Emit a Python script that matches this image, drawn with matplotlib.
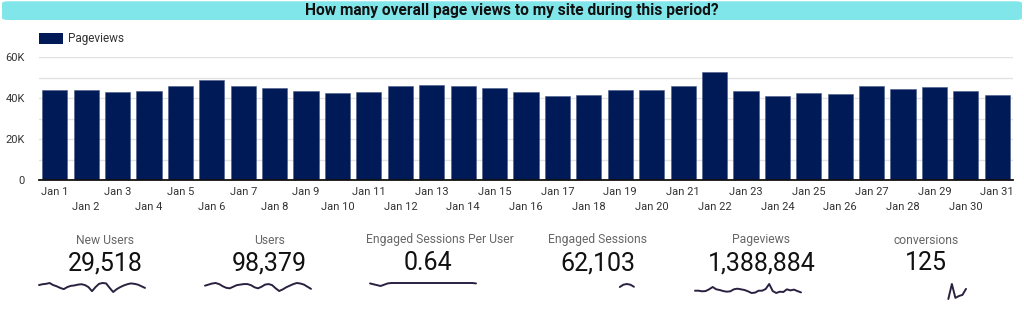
import numpy as np
import matplotlib
matplotlib.use('Agg')
import matplotlib.pyplot as plt
from matplotlib.patches import FancyBboxPatch, Rectangle

plt.rcParams['font.family'] = ['Roboto', 'DejaVu Sans']

# ---- data ----
days = ['Jan %d' % d for d in range(1, 32)]
pageviews = [44000, 44000, 43200, 43500, 45800, 48800, 45800, 44900, 43500, 42700,
             43200, 45800, 46600, 45800, 44900, 43200, 41000, 41500, 44000, 44000,
             46200, 52700, 43500, 41000, 42700, 42300, 45800, 44400, 45400, 43500,
             41800]

kpi_names = ['New Users', 'Users', 'Engaged Sessions Per User',
             'Engaged Sessions', 'Pageviews', 'conversions']
kpi_values = ['29,518', '98,379', '0.64', '62,103', '1,388,884', '125']

nan = np.nan
new_users_daily = [1000, 1020, 1030, 1050, 1000, 970, 930, 900, 950, 980, 990,
                   1010, 1020, 1000, 950, 850, 950, 1030, 1050, 1040, 930, 830,
                   900, 950, 990, 1020, 1040, 1030, 1010, 970, 930]
users_daily = [3250, 3300, 3350, 3375, 3325, 3225, 3150, 3125, 3200, 3275, 3300,
               3325, 3325, 3275, 3175, 3125, 3200, 3300, 3325, 3275, 3125, 3000,
               3075, 3175, 3250, 3325, 3375, 3350, 3300, 3200, 3100]
espu_daily = [0.640, 0.638, 0.636, 0.634, 0.637, 0.640, 0.641, 0.641, 0.641, 0.641,
              0.641, 0.641, 0.641, 0.641, 0.641, 0.641, 0.641, 0.641, 0.641, 0.641,
              0.641, 0.641, 0.641, 0.641, 0.641, 0.641, 0.641, 0.641, 0.641, 0.641,
              0.640]
engaged_daily = [nan] * 24 + [2050, 2150, 2180, 2150, 2060] + [nan, nan]
conversions_daily = [nan] * 25 + [6, 46, 9, 14, 17, 33]

spark_series = [new_users_daily, users_daily, espu_daily, engaged_daily,
                pageviews, conversions_daily]

# ---- layout (pixels in a 1024x324 canvas) ----
W, H = 1024, 324
label_x = [105, 270, 440, 598, 761, 926]
value_x = [105, 269, 428, 598, 762, 926]
spark_left = [39, 205, 370, 535, 695, 860]
spark_box = [(283, 292), (283, 291), (283, 286), (284, 287), (284, 293), (284, 299)]
spark_w = 106

fig = plt.figure(figsize=(W / 100, H / 100), dpi=100)
fig.patch.set_facecolor('white')

# title bar
bar_bg = FancyBboxPatch((0.002, 1 - 20 / H), 0.996, 20 / H - 0.004,
                        boxstyle='round,pad=0,rounding_size=0.006',
                        transform=fig.transFigure, facecolor='#80e6ea',
                        edgecolor='none', zorder=0)
fig.patches.append(bar_bg)
fig.text(0.5, 1 - 10 / H, 'How many overall page views to my site during this period?',
         ha='center', va='center', fontsize=11.2, fontweight='bold', color='#111111')

# main bar chart
ax = fig.add_axes([39 / W, 1 - 180.3 / H, (1013 - 39) / W, (180.3 - 57.3) / H])
x = np.arange(len(days))
ax.bar(x, pageviews, width=0.8, color='#001a57', edgecolor='#4a5a88', linewidth=0.4,
       zorder=3)
ax.set_xlim(-0.5, len(days) - 0.5)
ax.set_ylim(0, 60000)
ax.set_yticks([0, 20000, 40000, 60000])
ax.set_yticklabels(['0', '20K', '40K', '60K'])
ax.set_yticks(np.arange(10000, 60000, 20000), minor=True)
ax.grid(axis='y', which='both', color='#e2e2e2', linewidth=1, zorder=0)
ax.tick_params(axis='y', which='both', length=0, pad=10, labelsize=8, labelcolor='#333333')
for s in ['top', 'right', 'left']:
    ax.spines[s].set_visible(False)
ax.spines['bottom'].set_color('#111111')
ax.spines['bottom'].set_linewidth(1.3)
ax.spines['bottom'].set_zorder(4)

ax.set_xticks(x[::2])
ax.set_xticklabels(days[::2])
ax.set_xticks(x[1::2], minor=True)
ax.set_xticklabels(days[1::2], minor=True)
ax.tick_params(axis='x', which='major', length=0, pad=5, labelsize=8, labelcolor='#333333')
ax.tick_params(axis='x', which='minor', length=0, pad=15.5, labelsize=8, labelcolor='#333333')

# legend
fig.patches.append(Rectangle((39 / W, 1 - 44 / H), 24 / W, 11 / H,
                             transform=fig.transFigure, facecolor='#001a57',
                             edgecolor='none'))
fig.text(68 / W, 1 - 38.5 / H, 'Pageviews', ha='left', va='center', fontsize=8.5,
         color='#333333')

# scorecards
for i in range(6):
    fig.text(label_x[i] / W, 1 - 240 / H, kpi_names[i], ha='center', va='center',
             fontsize=8.7, color='#666666')
    fig.text(value_x[i] / W, 1 - 263 / H, kpi_values[i], ha='center', va='center',
             fontsize=18, color='#111111')
    top, bot = spark_box[i]
    sax = fig.add_axes([spark_left[i] / W, 1 - bot / H, spark_w / W, (bot - top) / H])
    vals = np.array(spark_series[i], dtype=float)
    sax.plot(np.arange(len(vals)), vals, color='#2a2040', linewidth=1.4,
             solid_capstyle='round', solid_joinstyle='round', clip_on=False)
    sax.set_xlim(0, len(vals) - 1)
    sax.set_ylim(np.nanmin(vals), np.nanmax(vals))
    sax.axis('off')

fig.savefig('out.png', dpi=100)
